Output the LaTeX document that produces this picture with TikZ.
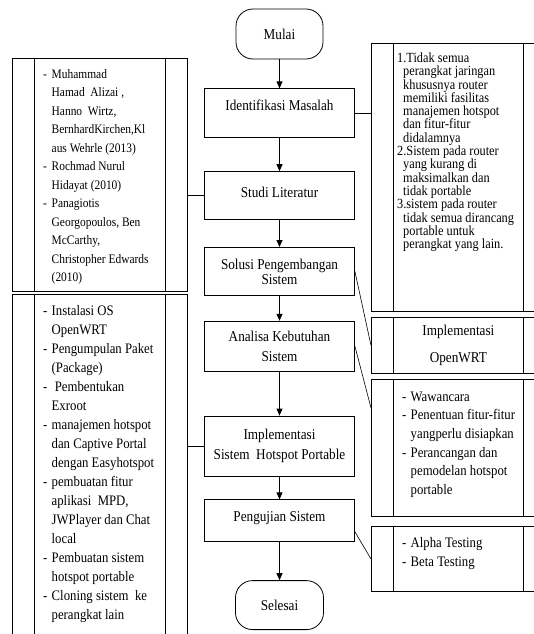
\documentclass[tikz,border=0pt]{standalone}
\usepackage{fontspec}
\setmainfont[FakeStretch=0.88]{Liberation Serif}
\usetikzlibrary{arrows.meta,positioning}

\newcommand{\itm}{\makebox[8.5pt][l]{-}}
\newcommand{\indnt}[1][8.5pt]{\hspace*{#1}}

\begin{document}
\begin{tikzpicture}[x=1pt, y=-1pt,
    flow/.style={rectangle, draw, line width=0.8pt,
                 minimum width=150pt, align=center, inner sep=2pt,
                 font=\fontsize{15}{20}\selectfont},
    term/.style={flow, rounded corners=17pt,
                 minimum width=87pt, minimum height=50pt},
    sidebox/.style={rectangle, draw, line width=0.8pt, anchor=north west,
                    minimum width=175pt, inner sep=0pt},
    note/.style={align=left, inner sep=0pt, anchor=north west},
    arr/.style={-{Triangle[length=7pt,width=6pt]}, line width=0.8pt},
    link/.style={line width=0.6pt}
  ]
    \useasboundingbox (0,0) rectangle (534,634);
    \clip (0,0) rectangle (534,634);

    % main flow
    \node[term] (mulai) at (279.5,34) {Mulai};
    \node[flow, below=29pt of mulai, minimum height=49pt,
          text height=10pt, text depth=15pt] (masalah) {Identifikasi Masalah};
    \node[flow, below=33pt of masalah, minimum height=48pt,
          text height=10pt, text depth=6pt] (studi) {Studi Literatur};
    \node[flow, below=27pt of studi, minimum height=48pt,
          font=\fontsize{15}{15}\selectfont] (solusi) {Solusi Pengembangan\\Sistem};
    \node[flow, below=25pt of solusi, minimum height=50pt] (analisa) {Analisa Kebutuhan\\Sistem};
    \node[flow, below=44pt of analisa, minimum height=60pt] (hotspot) {Implementasi\\Sistem~ Hotspot Portable};
    \node[flow, below=23pt of hotspot, minimum height=42pt,
          text height=10pt, text depth=8pt] (uji) {Pengujian Sistem};
    \node[term, below=38pt of uji, minimum width=88pt, minimum height=49pt] (selesai) {Selesai};

    \foreach \a/\b in {mulai/masalah, masalah/studi, studi/solusi,
                       solusi/analisa, analisa/hotspot, hotspot/uji, uji/selesai}
      \draw[arr] (\a) -- (\b);

    % side tables
    \node[sidebox, minimum height=233pt] (litbox) at (12,58) {};
    \node[sidebox, minimum height=351pt] (implbox) at (12,294) {};
    \node[sidebox, minimum width=174pt, minimum height=268pt] (probbox) at (371,43) {};
    \node[sidebox, minimum width=174pt, minimum height=56pt] (owrtbox) at (371,317) {};
    \node[sidebox, minimum width=174pt, minimum height=137pt] (kebbox) at (371,379) {};
    \node[sidebox, minimum width=174pt, minimum height=65pt] (ujibox) at (371,526) {};

    \foreach \b in {litbox,implbox,probbox,owrtbox,kebbox,ujibox}
      \draw[line width=0.8pt] ([xshift=22pt]\b.north west) -- ([xshift=22pt]\b.south west)
                              ([xshift=-22pt]\b.north east) -- ([xshift=-22pt]\b.south east);

    \node[note, font=\fontsize{13}{18.5}\selectfont] (littext)
      at ([xshift=31pt,yshift=-11pt]litbox.north west)
      {\itm Muhammad\\
       \indnt Hamad~ Alizai ,\\
       \indnt Hanno~ Wirtz,\\
       \indnt BernhardKirchen,Kl\\
       \indnt aus Wehrle (2013)\\
       \itm Rochmad Nurul\\
       \indnt Hidayat (2010)\\
       \itm Panagiotis\\
       \indnt Georgopoulos, Ben\\
       \indnt McCarthy,\\
       \indnt Christopher Edwards\\
       \indnt (2010)};

    \node[note, font=\fontsize{14.5}{19}\selectfont] (impltext)
      at ([xshift=31pt,yshift=-11pt]implbox.north west)
      {\itm Instalasi OS\\
       \indnt OpenWRT\\
       \itm Pengumpulan Paket\\
       \indnt (Package)\\
       \itm\ Pembentukan\\
       \indnt Exroot\\
       \itm manajemen hotspot\\
       \indnt dan Captive Portal\\
       \indnt dengan Easyhotspot\\
       \itm pembuatan fitur\\
       \indnt aplikasi~ MPD,\\
       \indnt JWPlayer dan Chat\\
       \indnt local\\
       \itm Pembuatan sistem\\
       \indnt hotspot portable\\
       \itm Cloning sistem~ ke\\
       \indnt perangkat lain};

    \node[note, font=\fontsize{14}{13.3}\selectfont] (probtext)
      at ([xshift=26pt,yshift=-9.5pt]probbox.north west)
      {1.Tidak semua\\
       \indnt[6pt]perangkat jaringan\\
       \indnt[6pt]khususnya router\\
       \indnt[6pt]memiliki fasilitas\\
       \indnt[6pt]manajemen hotspot\\
       \indnt[6pt]dan fitur-fitur\\
       \indnt[6pt]didalamnya\\
       2.Sistem pada router\\
       \indnt[6pt]yang kurang di\\
       \indnt[6pt]maksimalkan dan\\
       \indnt[6pt]tidak portable\\
       3.sistem pada router\\
       \indnt[6pt]tidak semua dirancang\\
       \indnt[6pt]portable untuk\\
       \indnt[6pt]perangkat yang lain.};

    \node[align=center, font=\fontsize{15}{27}\selectfont] (owrttext) at (owrtbox) {Implementasi\\OpenWRT};

    \node[note, font=\fontsize{14.5}{18.6}\selectfont] (kebtext)
      at ([xshift=31pt,yshift=-12.5pt]kebbox.north west)
      {\itm Wawancara\\
       \itm Penentuan fitur-fitur\\
       \indnt yangperlu disiapkan\\
       \itm Perancangan dan\\
       \indnt pemodelan hotspot\\
       \indnt portable};

    \node[note, font=\fontsize{14.5}{19}\selectfont] (ujitext)
      at ([xshift=31pt,yshift=-11.5pt]ujibox.north west)
      {\itm Alpha Testing\\
       \itm Beta Testing};

    % links to the tables
    \draw[link] (masalah.east) -- (masalah.east -| probbox.west);
    \draw[link] (studi.west) -- (studi.west -| litbox.east);
    \draw[link] (solusi.east) -- (owrtbox.west);
    \draw[link] (analisa.east) -- ([yshift=40pt]kebbox.west);
    \draw[link] (hotspot.west) -- (hotspot.west -| implbox.east);
    \draw[link] ([yshift=-11pt]uji.east) -- (ujibox.west);
\end{tikzpicture}
\end{document}
